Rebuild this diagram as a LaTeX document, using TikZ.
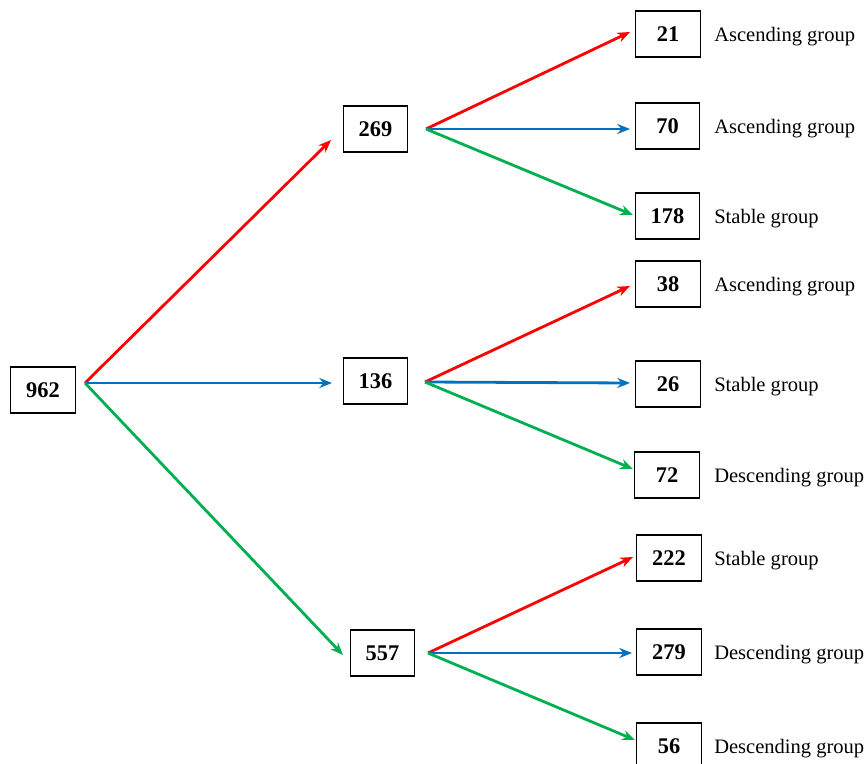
\documentclass[tikz,border=0pt]{standalone}
\usepackage{fontspec}
\setmainfont{Liberation Serif}
\usetikzlibrary{arrows.meta}
\definecolor{up}{HTML}{FF0000}
\definecolor{flat}{HTML}{0070C0}
\definecolor{down}{HTML}{00B050}
\tikzset{
  num/.style={draw, rectangle, line width=0.9pt, minimum width=48.5pt, minimum height=34.5pt, inner sep=0pt, font=\fontsize{16.8}{18}\selectfont\bfseries},
  grp/.style={anchor=west, inner sep=0pt, font=\fontsize{15.4}{17}\selectfont},
  arr/.style={-{Stealth[length=9.5pt,width=7.5pt]}, line width=2.1pt}
}
\begin{document}
\begin{tikzpicture}[x=0.75pt, y=-0.75pt]
\useasboundingbox (0,0) rectangle (865,764);
% root and middle level
\node[num] (n962) at (43,390) {962};
\node[num] (n269) at (375.5,129) {269};
\node[num] (n136) at (375.5,381) {136};
\node[num] (n557) at (382.5,653) {557};
% leaves with their group names
\foreach \n/\x/\y/\t in {21/668/34/Ascending group, 70/667.5/126/Ascending group, 178/667.5/216/Stable group,
  38/668/284/Ascending group, 26/668/384/Stable group, 72/667/475/Descending group,
  222/669/558/Stable group, 279/669/652/Descending group, 56/669/746/Descending group}
  {\node[num] (n\n) at (\x,\y) {\n};
   \node[grp] (g\n) at (714,\y+3) {\t};}
% start and end points of the arrows
\coordinate (s962) at (85,383);
\coordinate (s269) at (426,129);
\coordinate (s136) at (425,382);
\coordinate (s557) at (428,653);
\coordinate (e269) at (331,140);
\coordinate (e136) at (332,383);
\coordinate (e557) at (343,655);
\coordinate (e21) at (630,32);
\coordinate (e70) at (630,129);
\coordinate (e178) at (633,215);
\coordinate (e38) at (630,286);
\coordinate (e26) at (630,383);
\coordinate (e72) at (633,469);
\coordinate (e222) at (633,557);
\coordinate (e279) at (632,653);
\coordinate (e56) at (635,740);
\foreach \s/\t/\c in {s962/e269/up, s962/e136/flat, s962/e557/down,
  s269/e21/up, s269/e70/flat, s269/e178/down,
  s136/e38/up, s136/e26/flat, s136/e72/down,
  s557/e222/up, s557/e279/flat, s557/e56/down}
  \draw[arr, \c] (\s) -- (\t);
\end{tikzpicture}
\end{document}
